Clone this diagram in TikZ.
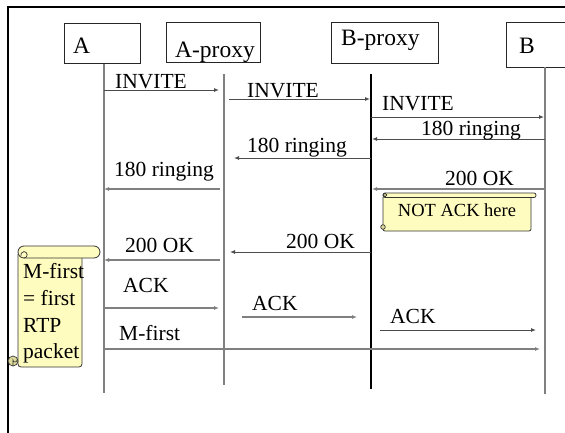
\documentclass[tikz,border=0pt]{standalone}
\usepackage{fontspec}
\setmainfont{Liberation Serif}
\usetikzlibrary{arrows.meta}
\tikzset{
  boxst/.style={draw=black!85, line width=0.8pt, fill=white, inner sep=0pt},
  boxlbl/.style={anchor=base west, inner sep=0pt, font=\fontsize{23.5}{28}\selectfont},
  life/.style={draw=gray, line width=1.1pt},
  lifeblk/.style={draw=black, line width=1.1pt},
  msg/.style={draw=black!70, line width=0.9pt, -{Latex[length=5pt,width=4pt]}},
  msglight/.style={draw=gray, line width=1.1pt, -{Latex[length=5pt,width=4pt]}},
  lbl/.style={anchor=base west, inner sep=0pt, font=\fontsize{21.5}{26}\selectfont},
  scrollst/.style={draw=black!80, line width=0.8pt, fill=yellow!25},
  curlst/.style={draw=black!80, line width=0.7pt, fill=olive!30},
}
\begin{document}
\begin{tikzpicture}[x=1pt,y=-1pt]
\useasboundingbox (0,0) rectangle (565,432);
% frame
\draw[line width=1.3pt] (8,440) -- (8,7) -- (575,7);
% boxes
\node[boxst, anchor=north west, minimum width=76pt, minimum height=40pt] (A) at (64,23) {};
\node[boxst, anchor=north west, minimum width=94pt, minimum height=40pt] (AP) at (166,22) {};
\node[boxst, anchor=north west, minimum width=107pt, minimum height=41pt] (BP) at (331,22) {};
\node[boxst, anchor=north west, minimum width=80pt, minimum height=45pt] (B) at (506,22) {};
\node[boxlbl] (Alab) at (73,53) {A};
\node[boxlbl] (APlab) at (175,57) {A-proxy};
\node[boxlbl] (BPlab) at (341,45) {B-proxy};
\node[boxlbl] (Blab) at (519,53) {B};
% lifelines
\coordinate (aT) at (104,64);  \coordinate (aB) at (104,393);
\coordinate (apT) at (224,74); \coordinate (apB) at (224,385);
\coordinate (bpT) at (371,74); \coordinate (bpB) at (371,389);
\coordinate (bT) at (545,67);  \coordinate (bB) at (545,394);
\draw[life] (aT) -- (aB);
\draw[life] (apT) -- (apB);
\draw[lifeblk] (bpT) -- (bpB);
\draw[life] (bT) -- (bB);
% messages
\coordinate (m1s) at (104,90);  \coordinate (m1e) at (219,90);
\coordinate (m2s) at (229,99);  \coordinate (m2e) at (370,99);
\coordinate (m3s) at (371,117); \coordinate (m3e) at (544,117);
\coordinate (m4s) at (545,139); \coordinate (m4e) at (372,139);
\coordinate (m5s) at (371,158); \coordinate (m5e) at (234,158);
\coordinate (m6s) at (220,189); \coordinate (m6e) at (104,189);
\coordinate (m7s) at (545,189); \coordinate (m7e) at (372,189);
\coordinate (m9s) at (371,252); \coordinate (m9e) at (230,252);
\coordinate (m10s) at (220,260); \coordinate (m10e) at (104,260);
\coordinate (m12s) at (104,308); \coordinate (m12e) at (219,308);
\coordinate (m13s) at (242,317); \coordinate (m13e) at (357,317);
\coordinate (m14s) at (380,330); \coordinate (m14e) at (536,330);
\coordinate (m15s) at (104,349); \coordinate (m15e) at (540,349);
\draw[msg] (m1s) -- (m1e);
\draw[msg] (m2s) -- (m2e);
\draw[msg] (m3s) -- (m3e);
\draw[msg] (m4s) -- (m4e);
\draw[msg] (m5s) -- (m5e);
\draw[msglight] (m6s) -- (m6e);
\draw[msglight] (m7s) -- (m7e);
\draw[msg] (m9s) -- (m9e);
\draw[msglight] (m10s) -- (m10e);
\draw[msglight] (m12s) -- (m12e);
\draw[msglight] (m13s) -- (m13e);
\draw[msg] (m14s) -- (m14e);
\draw[msglight] (m15s) -- (m15e);
% labels
\node[lbl] (l1) at (115,88) {INVITE};
\node[lbl] (l2) at (247,97) {INVITE};
\node[lbl] (l3) at (382,110) {INVITE};
\node[lbl] (l4) at (421,135) {180 ringing};
\node[lbl] (l5) at (247,152) {180 ringing};
\node[lbl] (l6) at (114,176) {180 ringing};
\node[lbl] (l7) at (445,185) {200 OK};
\node[lbl] (l9) at (286,248) {200 OK};
\node[lbl] (l10) at (125,252) {200 OK};
\node[lbl] (l12) at (123,292) {ACK};
\node[lbl] (l13) at (252,310) {ACK};
\node[lbl] (l14) at (390,323) {ACK};
\node[lbl] (l15) at (119,340) {M-first};
% horizontal scroll note
\filldraw[scrollst, rounded corners=2pt] (383,197) -- (383,231) -- (531,231) -- (531,197);
\filldraw[scrollst, rounded corners=2pt] (383,193) rectangle (536,197.5);
\filldraw[curlst] (385,195) circle (1.8);
\filldraw[curlst] (383,227) circle (2.3);
\node[anchor=base, inner sep=0pt, font=\fontsize{18.5}{22}\selectfont] (notack) at (457,216) {NOT ACK here};
% vertical scroll note
\filldraw[scrollst, rounded corners=3pt] (18,254) -- (18,367) -- (82,367) -- (82,254);
\filldraw[scrollst, rounded corners=6pt] (18,246) rectangle (100,258);
\draw[black!80, line width=0.7pt] (24,258) arc[start angle=90, end angle=-200, radius=3.2];
\filldraw[curlst] (13,361) circle (5);
\draw[black!80, line width=0.6pt] (13,366) -- (13,360) arc[start angle=180, end angle=0, radius=2];
\node[anchor=base west, inner sep=0pt, font=\fontsize{21.5}{26}\selectfont] (mf1) at (23,278) {M-first};
\node[anchor=base west, inner sep=0pt, font=\fontsize{21.5}{26}\selectfont] (mf2) at (23,305) {= first};
\node[anchor=base west, inner sep=0pt, font=\fontsize{21.5}{26}\selectfont] (mf3) at (23,332) {RTP};
\node[anchor=base west, inner sep=0pt, font=\fontsize{21.5}{26}\selectfont] (mf4) at (23,358) {packet};
\end{tikzpicture}
\end{document}
